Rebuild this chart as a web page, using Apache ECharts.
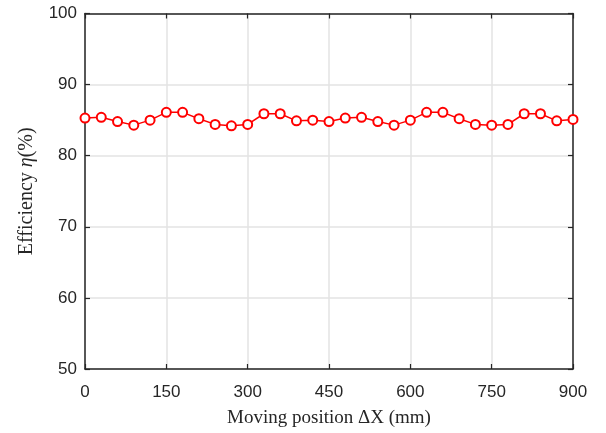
<!DOCTYPE html>
<html><head><meta charset="utf-8">
<script src="https://cdn.jsdelivr.net/npm/echarts@6/dist/echarts.min.js"></script>
<style>html,body{margin:0;padding:0;background:#fff}#c{width:606px;height:433px}</style>
</head><body><div id="c"></div>
<script>
const positions = [0,30,60,90,120,150,180,210,240,270,300,330,360,390,420,450,480,510,540,570,600,630,660,690,720,750,780,810,840,870,900];
const efficiency = [85.3,85.4,84.8,84.3,85.0,86.1,86.1,85.2,84.4,84.2,84.4,85.9,85.9,84.9,85.0,84.8,85.3,85.4,84.8,84.3,85.0,86.1,86.1,85.2,84.4,84.3,84.4,85.9,85.9,84.9,85.1];
const xTicks = [0,150,300,450,600,750,900];
const yTicks = [50,60,70,80,90,100];

const chart = echarts.init(document.getElementById('c'), null, {renderer:'canvas'});
function axisLine(){ return {show:true, onZero:false, lineStyle:{color:'#262626', width:1.5}}; }
function tickIn(){ return {show:true, inside:true, length:5, lineStyle:{color:'#262626', width:1.2}}; }
function labelFont(m){ return {show:true, margin:m, fontFamily:'Liberation Sans, Arial, sans-serif', fontSize:17, color:'#262626'}; }
const serif = 'Liberation Serif, DejaVu Serif, serif';
chart.setOption({
  animation:false,
  grid:{left:85, right:33, top:13.5, bottom:61.5, containLabel:false},
  xAxis:[{
    type:'value', position:'bottom', min:xTicks[0], max:xTicks[xTicks.length-1], interval:150,
    axisLine:axisLine(), axisTick:tickIn(),
    axisLabel:labelFont(15),
    splitLine:{show:true, lineStyle:{color:'#e3e3e3', width:1.5}},
    name:'Moving position ΔX (mm)', nameLocation:'middle', nameGap:40,
    nameTextStyle:{fontFamily:serif, fontSize:19, color:'#262626'}
  },{
    type:'value', position:'top', min:0, max:900, interval:150,
    axisLine:axisLine(), axisTick:tickIn(), axisLabel:{show:false}, splitLine:{show:false}
  }],
  yAxis:[{
    type:'value', position:'left', min:yTicks[0], max:yTicks[yTicks.length-1], interval:10,
    axisLine:axisLine(), axisTick:tickIn(),
    axisLabel:labelFont(8),
    splitLine:{show:true, lineStyle:{color:'#e3e3e3', width:1.5}},
    name:'{a|Efficiency }{b|η}{a|(%)}', nameLocation:'middle', nameGap:48,
    nameTextStyle:{rich:{
      a:{fontFamily:serif, fontSize:20, color:'#262626'},
      b:{fontFamily:serif, fontStyle:'italic', fontSize:20, color:'#262626'}
    }}
  },{
    type:'value', position:'right', min:50, max:100, interval:10,
    axisLine:axisLine(), axisTick:tickIn(), axisLabel:{show:false}, splitLine:{show:false}
  }],
  series:[{
    type:'line', xAxisIndex:0, yAxisIndex:0,
    data:positions.map((x,i)=>[x, efficiency[i]]),
    lineStyle:{color:'#ff0000', width:1.5},
    itemStyle:{color:'#ff0000', borderColor:'#ff0000', borderWidth:1.5},
    symbol:'emptyCircle', symbolSize:9, showSymbol:true, clip:false
  }]
});
</script></body></html>
